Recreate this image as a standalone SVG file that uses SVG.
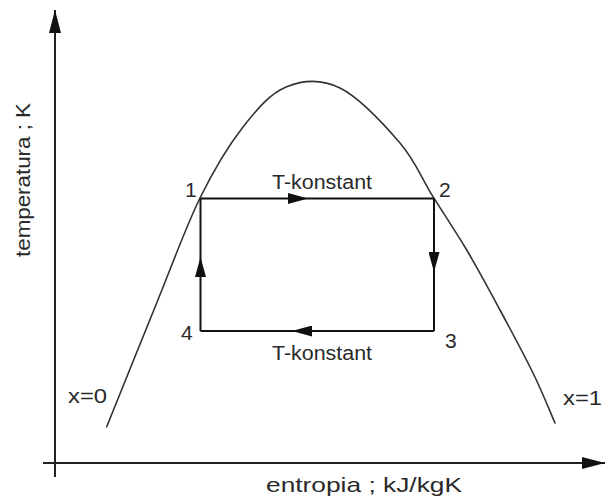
<svg xmlns="http://www.w3.org/2000/svg" width="608" height="497" viewBox="0 0 608 497">
  <style>
    .lbl { font-family: "Liberation Sans", Arial, sans-serif; fill: #2a2a2a; }
    .axis { fill: none; stroke: #222; stroke-width: 2; }
    .edge { fill: none; stroke: #111; stroke-width: 2; }
    .curve { fill: none; stroke: #333; stroke-width: 1.6; stroke-linejoin: round; stroke-linecap: round; }
  </style>
  <defs>
    <marker id="axisHead" markerUnits="userSpaceOnUse" viewBox="0 0 23 12" refX="23" refY="6" markerWidth="23" markerHeight="12" orient="auto">
      <path d="M0,0 L23,6 L0,12 z" fill="#111"/>
    </marker>
    <marker id="flowHead" markerUnits="userSpaceOnUse" viewBox="0 0 20 11" refX="20" refY="5.5" markerWidth="20" markerHeight="11" orient="auto">
      <path d="M0,0 L20,5.5 L0,11 z" fill="#111"/>
    </marker>
  </defs>
  <rect width="608" height="497" fill="#fff"/>

  <g id="axes">
    <path class="axis" d="M55,477 L55,10" marker-end="url(#axisHead)"/>
    <path class="axis" d="M43,463 L605,463" marker-end="url(#axisHead)"/>
    <text class="lbl" font-size="21" text-anchor="middle" textLength="154" lengthAdjust="spacingAndGlyphs" transform="translate(30,180) rotate(-90)">temperatura ; K</text>
    <text class="lbl" font-size="21" x="266" y="492" textLength="196" lengthAdjust="spacingAndGlyphs">entropia ; kJ/kgK</text>
  </g>

  <g id="saturation-curve">
    <path class="curve" d="M106.7,426.7 C115,406.1 141.15,341.1 156.7,303 C172.25,264.9 185.6,227.3 200,198 C214.4,168.7 228.55,145.55 243,127 C257.45,108.45 270.5,93.2 286.7,86.7 C302.9,80.2 321.1,78.6 340,88 C358.9,97.4 384.5,124.9 400,143 C415.5,161.1 421.9,178.9 433,196.7 C444.1,214.5 455.5,231.1 466.7,250 C477.9,268.9 488.95,289.5 500,310 C511.05,330.5 523.8,354.2 533,373 C542.2,391.8 551.3,414.7 555,423"/>
    <text class="lbl" font-size="20" x="68" y="403" textLength="39" lengthAdjust="spacingAndGlyphs">x=0</text>
    <text class="lbl" font-size="20" x="563" y="405" textLength="39" lengthAdjust="spacingAndGlyphs">x=1</text>
  </g>

  <g id="state-1"><text class="lbl" font-size="21" x="185" y="197">1</text></g>
  <g id="state-2"><text class="lbl" font-size="21" x="439" y="197">2</text></g>
  <g id="state-3"><text class="lbl" font-size="21" x="445" y="348">3</text></g>
  <g id="state-4"><text class="lbl" font-size="21" x="181" y="340">4</text></g>

  <g id="connectors">
    <path class="edge" d="M200.5,198.5 L308,198.5 L434,198.5" marker-mid="url(#flowHead)"/>
    <path class="edge" d="M434,198.5 L434,272 L434,331" marker-mid="url(#flowHead)"/>
    <path class="edge" d="M434,331 L292,331 L200.5,331" marker-mid="url(#flowHead)"/>
    <path class="edge" d="M200.5,331 L200.5,257 L200.5,198.5" marker-mid="url(#flowHead)"/>
    <text class="lbl" font-size="20" x="272" y="188.5" textLength="100" lengthAdjust="spacingAndGlyphs">T-konstant</text>
    <text class="lbl" font-size="20" x="272" y="360" textLength="100" lengthAdjust="spacingAndGlyphs">T-konstant</text>
  </g>
</svg>
